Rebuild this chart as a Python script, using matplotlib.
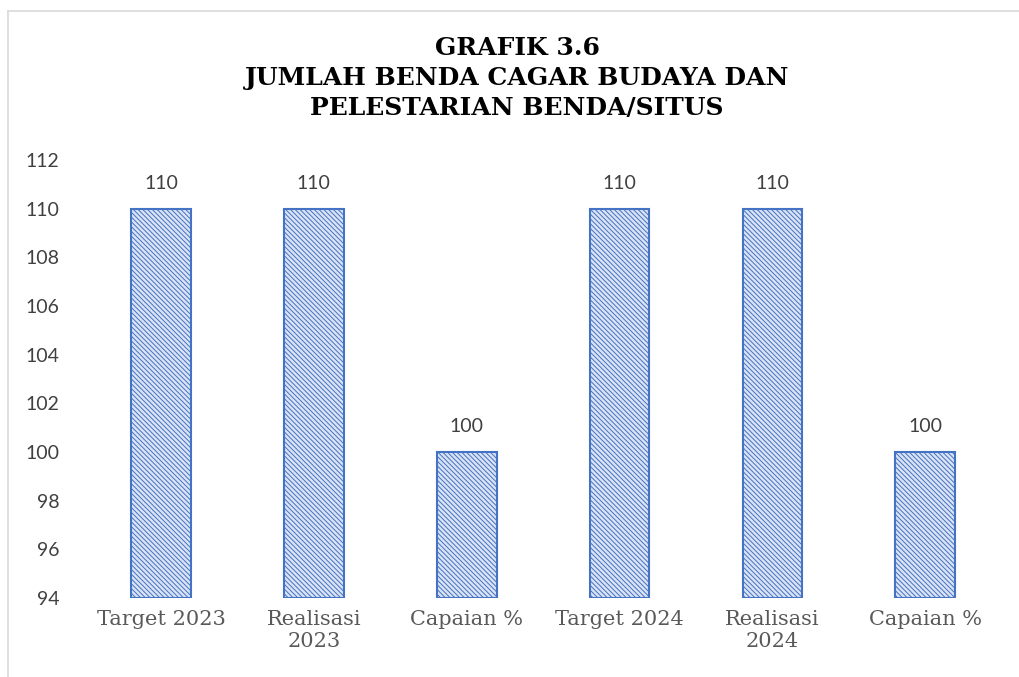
import matplotlib.pyplot as plt
from matplotlib.lines import Line2D

categories = ['Target 2023', 'Realisasi\n2023', 'Capaian %', 'Target 2024', 'Realisasi\n2024', 'Capaian %']
values = [110, 110, 100, 110, 110, 100]
y_ticks = [94, 96, 98, 100, 102, 104, 106, 108, 110, 112]
title_lines = ['GRAFIK 3.6', 'JUMLAH BENDA CAGAR BUDAYA DAN', 'PELESTARIAN BENDA/SITUS']

plt.rcParams['hatch.linewidth'] = 0.7

fig = plt.figure(figsize=(10.2, 6.77), dpi=100)
ax = fig.add_axes([0.083, 0.1167, 0.899, 0.647])

x = range(len(categories))
ax.bar(x, [v - y_ticks[0] for v in values], bottom=y_ticks[0], width=0.39,
       color='#dae3f3', edgecolor='#4472c4', linewidth=1.5, hatch='\\' * 7)

for i, v in enumerate(values):
    ax.annotate(str(v), (i, v), xytext=(0, 18), textcoords='offset points',
                ha='center', va='center', fontsize=14, color='#404040', family='Lato')

ax.set_ylim(94, 112)
ax.set_xlim(-0.5, len(categories) - 0.5)
ax.set_yticks(y_ticks)
ax.set_yticklabels([str(t) for t in y_ticks], fontsize=14, color='#404040', family='Lato')
ax.set_xticks(list(x))
ax.set_xticklabels(categories, fontsize=15, color='#595959', family='DejaVu Serif',
                   linespacing=1.15)
ax.tick_params(axis='both', length=0)
ax.tick_params(axis='y', pad=18)
ax.tick_params(axis='x', pad=9)
for s in ax.spines.values():
    s.set_visible(False)

ys = [0.929, 0.885, 0.841]
for line, yy in zip(title_lines, ys):
    fig.text(0.507, yy, line, ha='center', va='center', fontsize=18,
             fontweight='bold', family='DejaVu Serif', color='black')

# chart border (left and top only visible)
fig.add_artist(Line2D([8 / 1020, 8 / 1020], [0, 1 - 11 / 677], transform=fig.transFigure,
                      color='#d9d9d9', linewidth=1.2))
fig.add_artist(Line2D([8 / 1020, 1], [1 - 11 / 677, 1 - 11 / 677], transform=fig.transFigure,
                      color='#d9d9d9', linewidth=1.2))

fig.savefig('out.png', dpi=100)
